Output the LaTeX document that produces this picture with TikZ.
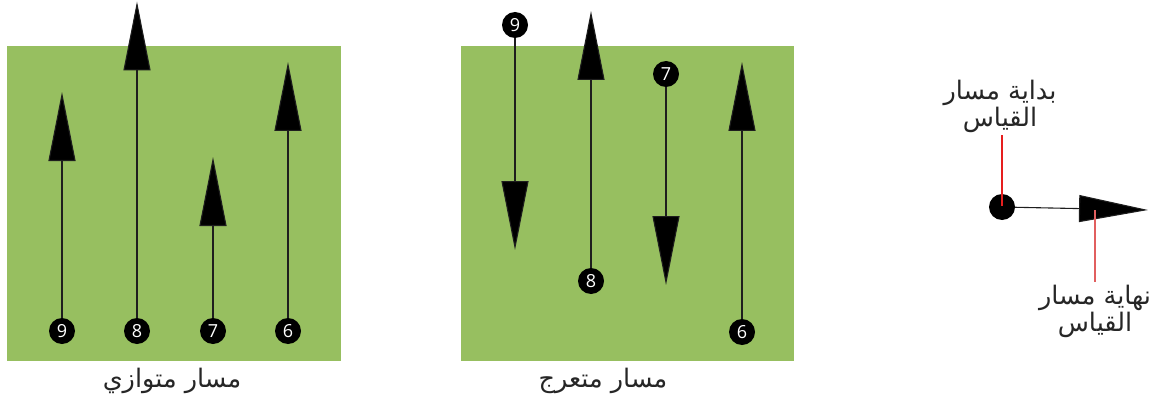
\documentclass[tikz,border=0pt]{standalone}
\usepackage{fontspec}
\setmainfont{Open Sans}
\newfontfamily\arabicfont[Script=Arabic]{DejaVu Sans}
\TeXXeTstate=1
\usetikzlibrary{arrows.meta}
\definecolor{field}{RGB}{151,191,96}
\definecolor{pathline}{RGB}{30,30,30}
\definecolor{marker}{RGB}{230,30,30}
\definecolor{markerlight}{RGB}{225,95,95}
\tikzset{
  field/.style={fill=field, draw=none},
  station/.style={circle, fill=black, text=white, inner sep=0pt, minimum size=26pt,
    font=\fontsize{18}{18}\selectfont},
  track/.style={draw=pathline, line width=1.1pt,
    -{Triangle[length=69pt, width=27pt, fill=black]}},
  caption/.style={font=\arabicfont\fontsize{25.5}{27}\selectfont, text=black!85, align=center, inner sep=0pt},
  pointer/.style={line width=1.1pt},
}
\begin{document}
\begin{tikzpicture}[x=1pt, y=-1pt]
\useasboundingbox (0,0) rectangle (1169,401);

% fields
\fill[field] (7,46) rectangle (341,361);
\fill[field] (461,46) rectangle (794,361);

% parallel layout
\node[station] (p9) at (62,331) {9};
\node[station] (p8) at (137,331) {8};
\node[station] (p7) at (213,331) {7};
\node[station] (p6) at (288,331) {6};
\coordinate (p9e) at (62,92);
\coordinate (p8e) at (137,1.5);
\coordinate (p7e) at (213,157);
\coordinate (p6e) at (288,62);
\draw[track] (p9) -- (p9e);
\draw[track] (p8) -- (p8e);
\draw[track] (p7) -- (p7e);
\draw[track] (p6) -- (p6e);
\node[caption] (lp) at (172,381) {\beginR مسار متوازي\endR};

% zigzag layout
\node[station] (z9) at (515,25) {9};
\node[station] (z8) at (591,281) {8};
\node[station] (z7) at (666,74) {7};
\node[station] (z6) at (742,332) {6};
\coordinate (z9e) at (515,250);
\coordinate (z8e) at (591,11);
\coordinate (z7e) at (666,285);
\coordinate (z6e) at (742,62);
\draw[track] (z9) -- (z9e);
\draw[track] (z8) -- (z8e);
\draw[track] (z7) -- (z7e);
\draw[track] (z6) -- (z6e);
\node[caption] (lz) at (603,381) {\beginR مسار متعرج\endR};

% legend
\node[station] (s) at (1002,207) {};
\coordinate (se) at (1148,210);
\draw[track] (s) -- (se);
\node[caption] (ls) at (1000,106) {\beginR بداية مسار\endR\\\beginR القياس\endR};
\node[caption] (le) at (1095,311) {\beginR نهاية مسار\endR\\\beginR القياس\endR};
\coordinate (ms1) at (1002,135);
\coordinate (ms2) at (1002,206);
\coordinate (me1) at (1095,210);
\coordinate (me2) at (1095,282);
\draw[pointer, draw=marker] (ms1) -- (ms2);
\draw[pointer, draw=markerlight] (me1) -- (me2);
\end{tikzpicture}
\end{document}
